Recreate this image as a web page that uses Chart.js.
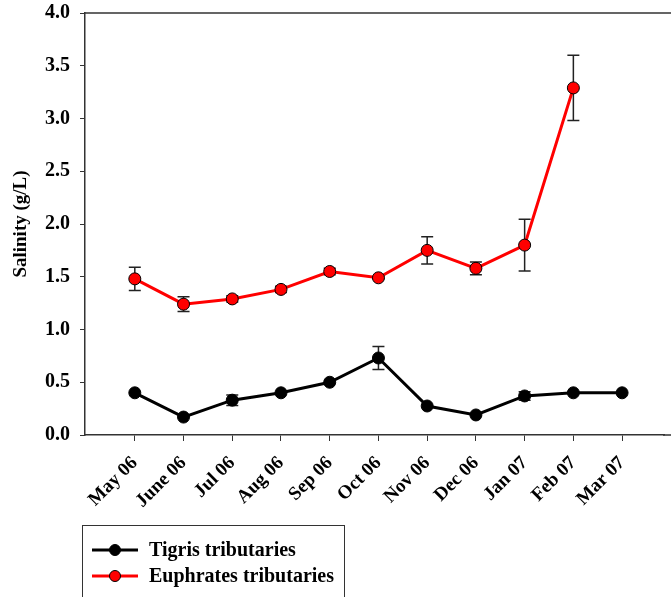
<!DOCTYPE html>
<html><head><meta charset="utf-8">
<script src="https://cdn.jsdelivr.net/npm/chart.js@4/dist/chart.umd.min.js"></script>
<style>html,body{margin:0;padding:0;background:#fff;overflow:hidden}#wrap{width:671px;height:597px;position:relative}canvas{display:block}</style>
</head><body><div id="wrap"><canvas id="c" width="671" height="597"></canvas></div>
<script>
const months = ["May 06","June 06","Jul 06","Aug 06","Sep 06","Oct 06","Nov 06","Dec 06","Jan 07","Feb 07","Mar 07"];
const tigris = [0.40,0.17,0.33,0.40,0.50,0.73,0.275,0.19,0.37,0.40,0.40];
const tigrisErr = [0,0,0.05,0,0,0.11,0,0,0.04,0,0];
const euphrates = [1.48,1.24,1.29,1.38,1.55,1.49,1.75,1.58,1.80,3.29,null];
const euphratesErr = [0.11,0.07,0.03,0.03,0.03,0.01,0.13,0.06,0.245,0.31,0];
const yTicks = [0,0.5,1.0,1.5,2.0,2.5,3.0,3.5,4.0];
const seriesNames = ["Tigris tributaries","Euphrates tributaries"];

const FONT = "'Liberation Serif','Times New Roman',serif";
const toXY = arr => arr.map((v,i)=>({x:i,y:v})).filter(p=>p.y!==null);

const errPlugin = {
  id:'err',
  beforeDatasetsDraw(chart){
    const {ctx, scales:{x,y}} = chart;
    const errs = [tigrisErr, euphratesErr];
    const vals = [tigris, euphrates];
    ctx.save();
    ctx.strokeStyle = '#222';
    ctx.lineWidth = 1.5;
    errs.forEach((e,k)=>{
      e.forEach((d,i)=>{
        const v = vals[k][i];
        if(v===null || !d) return;
        const px = x.getPixelForValue(i);
        const top = y.getPixelForValue(v+d), bot = y.getPixelForValue(v-d);
        ctx.beginPath();
        ctx.moveTo(px,top);ctx.lineTo(px,bot);
        ctx.moveTo(px-6,top);ctx.lineTo(px+6,top);
        ctx.moveTo(px-6,bot);ctx.lineTo(px+6,bot);
        ctx.stroke();
      });
    });
    ctx.restore();
  },
  afterDraw(chart){
    const {ctx, chartArea:a} = chart;
    const W = chart.width;
    ctx.save();
    ctx.strokeStyle = '#333'; ctx.lineWidth = 1.5;
    ctx.beginPath();
    ctx.moveTo(a.left, a.top); ctx.lineTo(W, a.top);
    ctx.moveTo(a.right - 1, a.bottom); ctx.lineTo(W, a.bottom);
    ctx.stroke();
    ctx.strokeStyle = '#333'; ctx.lineWidth = 1;
    ctx.strokeRect(82.5, 525.5, 262, 80);
    const items = [{c:'#000', f:'#000', y:550},{c:'#ff0000', f:'#ff0000', y:576}];
    items.forEach((it,k)=>{
      ctx.strokeStyle = it.c; ctx.lineWidth = 3;
      ctx.beginPath(); ctx.moveTo(92, it.y); ctx.lineTo(138, it.y); ctx.stroke();
      ctx.beginPath(); ctx.arc(115, it.y, 5.5, 0, Math.PI*2);
      ctx.fillStyle = it.f; ctx.fill();
      ctx.strokeStyle = '#000'; ctx.lineWidth = 1; ctx.stroke();
      ctx.fillStyle = '#000';
      ctx.font = "bold 20px " + FONT;
      ctx.textBaseline = 'middle';
      ctx.fillText(seriesNames[k], 149, it.y+1);
    });
    ctx.restore();
  }
};

new Chart(document.getElementById('c'), {
  type:'line',
  data:{
    datasets:[
      {label:seriesNames[0], data:toXY(tigris), borderColor:'#000', backgroundColor:'#000',
       borderWidth:3, pointRadius:6, pointBorderColor:'#000', pointBackgroundColor:'#000', pointBorderWidth:1, tension:0},
      {label:seriesNames[1], data:toXY(euphrates), borderColor:'#ff0000', backgroundColor:'#ff0000',
       borderWidth:3, pointRadius:6, pointBorderColor:'#000', pointBackgroundColor:'#ff0000', pointBorderWidth:1, tension:0}
    ]
  },
  plugins:[errPlugin],
  options:{
    responsive:false, animation:false,
    layout:{padding:{top:13,right:0,left:0,bottom:0}},
    plugins:{legend:{display:false}, tooltip:{enabled:false}},
    scales:{
      x:{type:'linear', min:-1.022, max:10.86,
        afterBuildTicks:s=>{ s.ticks = months.map((m,i)=>({value:i})); },
        afterFit:s=>{ s.height = 162; s.paddingRight = 0; s.paddingLeft = 0; },
        border:{color:'#333', width:1.5},
        grid:{drawOnChartArea:false, tickLength:6, color:'#333', lineWidth:1},
        ticks:{autoSkip:false, maxRotation:45, minRotation:45, color:'#000', padding:11,
          font:{family:FONT, size:19, weight:'bold'},
          callback:(v)=> months[v] ?? ''}
      },
      y:{type:'linear', min:0, max:4,
        afterBuildTicks:s=>{ s.ticks = yTicks.map(v=>({value:v})); },
        afterFit:s=>{ s.width = 85; s.paddingTop = 0; s.paddingBottom = 0; },
        border:{color:'#333', width:1.5},
        grid:{drawOnChartArea:false, tickLength:5, color:'#333'},
        ticks:{color:'#000', padding:10, font:{family:FONT, size:20, weight:'bold'},
          callback:v=>Number(v).toFixed(1)},
        title:{display:true, text:'Salinity (g/L)', color:'#000', padding:{top:10,bottom:4},
          font:{family:FONT, size:19, weight:'bold'}}
      }
    }
  }
});
</script></body></html>
